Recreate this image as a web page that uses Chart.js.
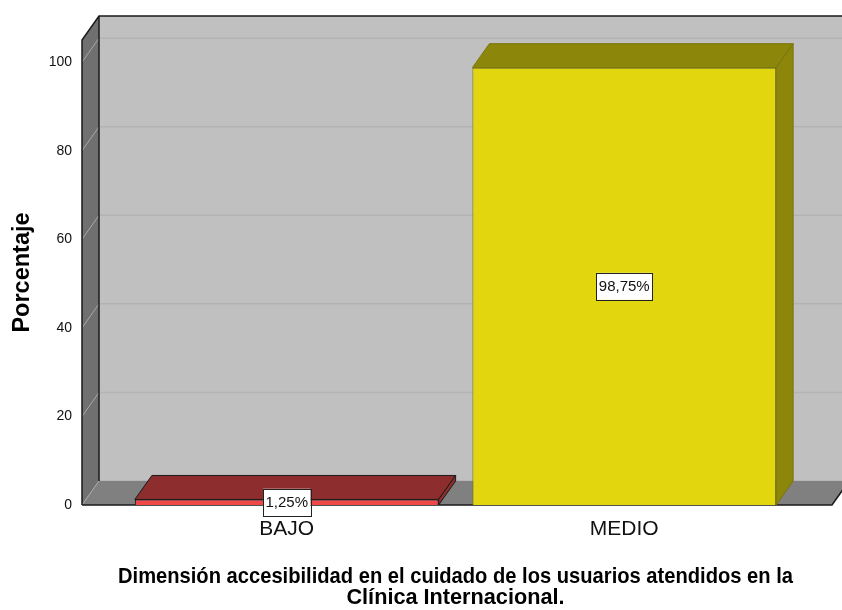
<!DOCTYPE html>
<html>
<head>
<meta charset="utf-8">
<script src="https://cdn.jsdelivr.net/npm/chart.js@4.4.1/dist/chart.umd.min.js"></script>
<style>
  body { margin: 0; background: #fff; }
  #wrap { width: 842px; height: 610px; }
</style>
</head>
<body>
<div id="wrap"><canvas id="myChart"></canvas></div>
<script>
const categories = ["BAJO", "MEDIO"];
const percentages = [1.25, 98.75];
const valueLabels = ["1,25%", "98,75%"];
const yTicks = [0, 20, 40, 60, 80, 100];
const frontColors = ["#ee4848", "#e2d70e"];
const shadeColors = ["#8e2d2d", "#8c860a"];
const edgeColors = ["#1a1a1a", "#7a7508"];

const FONT = "'Liberation Sans', Arial, sans-serif";
// depth of the fake 3d box
const DX = 17, DY = -24;
const WALL_LEFT = 36, FLOOR_RIGHT = 39;

function poly(ctx, pts, fill, stroke, lw) {
  ctx.beginPath();
  ctx.moveTo(pts[0][0], pts[0][1]);
  for (let i = 1; i < pts.length; i++) ctx.lineTo(pts[i][0], pts[i][1]);
  ctx.closePath();
  if (fill) { ctx.fillStyle = fill; ctx.fill(); }
  if (stroke) { ctx.strokeStyle = stroke; ctx.lineWidth = lw || 1; ctx.stroke(); }
}

const box3d = {
  id: 'box3d',
  beforeDatasetsDraw(chart) {
    const ctx = chart.ctx;
    const a = chart.chartArea;
    const y = chart.scales.y;
    const x0 = a.left - WALL_LEFT, xR = a.right + FLOOR_RIGHT;
    const yTop = a.top, y0 = y.getPixelForValue(0);
    const W = chart.width;
    ctx.save();
    // back wall
    poly(ctx, [[x0 + DX, yTop + DY], [W + 5, yTop + DY], [W + 5, y0 + DY], [x0 + DX, y0 + DY]], '#c0c0c0');
    // back grid lines
    ctx.strokeStyle = '#b3b3b3';
    ctx.lineWidth = 1.5;
    yTicks.forEach(t => {
      const yy = y.getPixelForValue(t) + DY;
      ctx.beginPath(); ctx.moveTo(x0 + DX, yy); ctx.lineTo(W, yy); ctx.stroke();
    });
    // left wall
    poly(ctx, [[x0, yTop], [x0 + DX, yTop + DY], [x0 + DX, y0 + DY], [x0, y0]], '#707070');
    // floor
    poly(ctx, [[x0, y0], [x0 + DX, y0 + DY], [xR + DX, y0 + DY], [xR, y0]], '#808080');
    // grid lines on the side wall
    ctx.strokeStyle = '#a8a8a8';
    ctx.lineWidth = 1;
    yTicks.forEach(t => {
      const yy = y.getPixelForValue(t);
      ctx.beginPath(); ctx.moveTo(x0, yy); ctx.lineTo(x0 + DX, yy + DY); ctx.stroke();
    });
    // edges
    ctx.strokeStyle = '#1a1a1a';
    ctx.lineWidth = 1.5;
    ctx.beginPath();
    ctx.moveTo(x0, y0); ctx.lineTo(x0, yTop); ctx.lineTo(x0 + DX, yTop + DY); ctx.lineTo(W, yTop + DY);
    ctx.moveTo(x0 + DX, yTop + DY); ctx.lineTo(x0 + DX, y0 + DY);
    ctx.moveTo(x0, y0); ctx.lineTo(xR, y0); ctx.lineTo(xR + DX, y0 + DY);
    ctx.stroke();
    ctx.restore();
  },
  afterDatasetsDraw(chart) {
    const ctx = chart.ctx;
    const meta = chart.getDatasetMeta(0);
    ctx.save();
    meta.data.forEach((bar, i) => {
      const p = bar.getProps(['x', 'y', 'base', 'width'], true);
      const l = p.x - p.width / 2, r = p.x + p.width / 2;
      poly(ctx, [[l, p.y], [l + DX, p.y + DY], [r + DX, p.y + DY], [r, p.y]], shadeColors[i], edgeColors[i], 1);
      poly(ctx, [[r, p.y], [r + DX, p.y + DY], [r + DX, p.base + DY], [r, p.base]], shadeColors[i], edgeColors[i], 1);
    });
    // value labels
    ctx.font = '15px ' + FONT;
    ctx.textAlign = 'center';
    ctx.textBaseline = 'middle';
    meta.data.forEach((bar, i) => {
      const p = bar.getProps(['x', 'y', 'base'], true);
      const cy = (p.y + p.base) / 2;
      const w = ctx.measureText(valueLabels[i]).width + 5;
      const h = 27;
      ctx.fillStyle = '#ffffff';
      ctx.fillRect(p.x - w / 2, cy - h / 2, w, h);
      ctx.strokeStyle = '#222';
      ctx.lineWidth = 1;
      ctx.strokeRect(Math.round(p.x - w / 2) + 0.5, Math.round(cy - h / 2) + 0.5, Math.round(w), h);
      ctx.fillStyle = '#111';
      ctx.fillText(valueLabels[i], p.x, cy + 1);
    });
    ctx.restore();
  }
};

new Chart(document.getElementById('myChart'), {
  type: 'bar',
  data: {
    labels: categories,
    datasets: [{
      data: percentages,
      backgroundColor: frontColors,
      borderColor: edgeColors,
      borderWidth: 1,
      barPercentage: 0.9,
      categoryPercentage: 1
    }]
  },
  options: {
    responsive: true,
    maintainAspectRatio: false,
    animation: false,
    layout: { padding: { left: 0, right: 49, top: 40, bottom: 0 } },
    plugins: { legend: { display: false }, tooltip: { enabled: false } },
    scales: {
      x: {
        grid: { display: false, drawTicks: false },
        border: { display: false },
        ticks: { color: '#111', font: { family: FONT, size: 21 }, padding: 12 },
        title: {
          display: true,
          text: ['Dimensión accesibilidad en el cuidado de los usuarios atendidos en la', 'Clínica Internacional.'],
          color: '#000',
          font: { family: FONT, size: 21.7, weight: 'bold', lineHeight: 0.97 },
          padding: { top: 0, bottom: 1 }
        },
        afterFit(scale) {
          scale.height = 105;
          scale.paddingLeft = 0;
          scale.paddingRight = 0;
        }
      },
      y: {
        min: 0,
        max: 105,
        grid: { display: false, drawTicks: false },
        border: { display: false },
        afterBuildTicks(scale) { scale.ticks = yTicks.map(v => ({ value: v })); },
        ticks: { color: '#111', font: { family: FONT, size: 14 }, padding: 46 },
        title: {
          display: true,
          text: 'Porcentaje',
          color: '#000',
          font: { family: FONT, size: 23.5, weight: 'bold', lineHeight: 1.2 },
          padding: { top: 8, bottom: 0 }
        },
        afterFit(scale) {
          scale.width = 118;
          scale.paddingTop = 0;
          scale.paddingBottom = 0;
        }
      }
    }
  },
  plugins: [box3d]
});
</script>
</body>
</html>
